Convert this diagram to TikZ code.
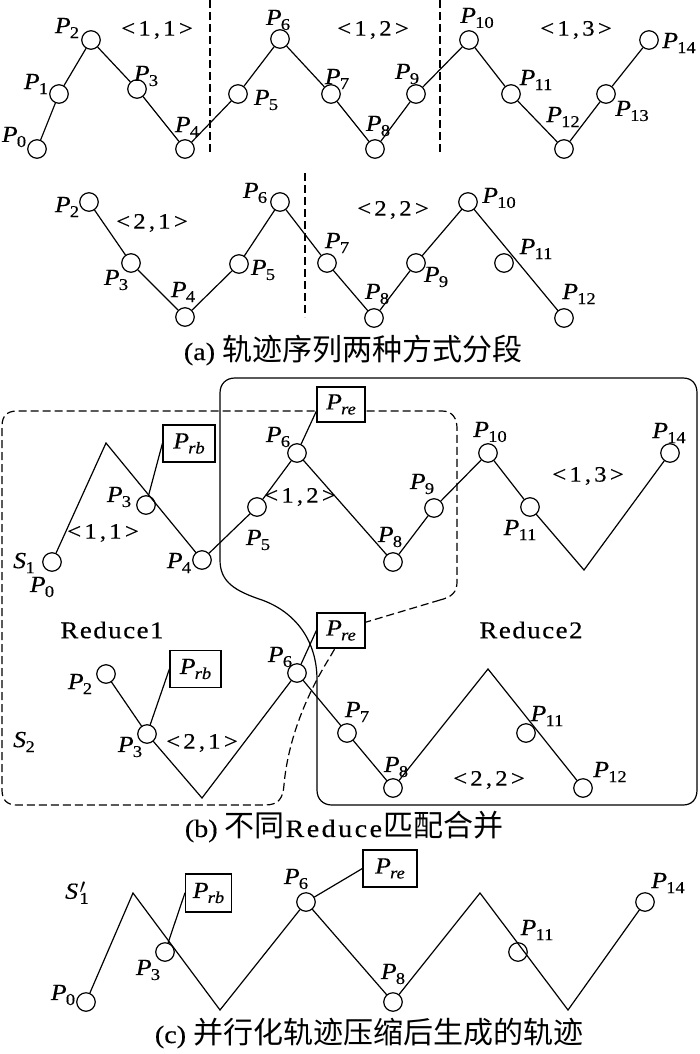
\documentclass[tikz,border=0pt]{standalone}
\usepackage{fontspec}
\newfontfamily\cjk{Noto Sans CJK SC}
\newfontfamily\tms[FakeStretch=1.12,FakeBold=0.4]{Liberation Serif}
\newcommand\Pl[1]{{\itshape P}\kern-0.8pt\raisebox{-5pt}{\fontsize{16.5}{16.5}\selectfont #1}}
\newcommand\Sl[1]{{\itshape S}\kern-0.5pt\raisebox{-5pt}{\fontsize{16.5}{16.5}\selectfont #1}}
\makeatletter
\newcommand\lsp[2]{\def\lsp@k{\kern#1}\@tfor\lsp@c:=#2\do{\lsp@c\lsp@k}\unkern}
\makeatother
\begin{document}
\begin{tikzpicture}[x=1pt,y=-1pt,
  pt/.style={circle,draw,line width=1.2pt,minimum size=18.5pt,inner sep=0pt},
  traj/.style={line width=1.2pt,line cap=round},
  lbl/.style={inner sep=0pt,font=\tms\fontsize{23}{23}\selectfont},
  seg/.style={inner sep=0pt,font=\tms\fontsize{22}{22}\selectfont},
  redn/.style={inner sep=0pt,font=\tms\fontsize{24}{24}\selectfont},
  rbox/.style={draw,line width=1.2pt,fill=white,minimum width=50pt,minimum height=36pt,inner sep=0pt,font=\tms\fontsize{23}{23}\selectfont},
  dsh/.style={line width=1.2pt,dash pattern=on 8pt off 4pt},
  capn/.style={inner sep=0pt,font=\tms\fontsize{25}{25}\selectfont}]
\useasboundingbox (0,0) rectangle (700,1054);

% ---------------- (a) row 1 ----------------
\foreach \n/\x/\y in {0/37/149,1/59/94,2/91/40,3/137/89,4/185/149,5/238/94,6/280/39,7/331/94,8/375/149,9/416/94,10/469/40,11/511/94,12/564/149,13/606/94,14/649/40}
  \node[pt] (a\n) at (\x,\y) {};
\draw[traj] (a0)--(a1)--(a2)--(a3)--(a4)--(a5)--(a6)--(a7)--(a8)--(a9)--(a10)--(a11)--(a12)--(a13)--(a14);
\foreach \n/\x/\y in {0/14/137,1/36/84,2/67/28,3/146/76,4/187/127,5/266/100,6/278/20,7/337/79,8/378/126,9/407/74,10/477/18,11/536/80,12/563/117,13/632/111,14/679/43}
  \node[lbl] (la\n) at (\x,\y) {\Pl{\n}};
\node[seg] (s11) at (157,30) {\lsp{3.2pt}{<1,1>}};
\node[seg] (s12) at (373,30) {\lsp{3.2pt}{<1,2>}};
\node[seg] (s13) at (576,30) {\lsp{3.2pt}{<1,3>}};
\coordinate (d1t) at (210,0); \coordinate (d1b) at (210,155);
\coordinate (d2t) at (440,0); \coordinate (d2b) at (440,155);
\draw[dsh] (d1t) -- (d1b);
\draw[dsh] (d2t) -- (d2b);

% ---------------- (a) row 2 ----------------
\foreach \n/\x/\y in {2/89/202,3/131/263,4/185/317,5/239/264,6/280/202,7/327/263,8/374/318,9/416/263,10/468/202,11/504/263,12/564/318}
  \node[pt] (b\n) at (\x,\y) {};
\draw[traj] (b2)--(b3)--(b4)--(b5)--(b6)--(b7)--(b8)--(b9)--(b10)--(b12);
\foreach \n/\x/\y in {2/67/207,3/116/280,4/183/292,5/263/270,6/255/193,7/337/243,8/377/294,9/436/277,10/499/198,11/536/249,12/579/294}
  \node[lbl] (lb\n) at (\x,\y) {\Pl{\n}};
\node[seg] (s21) at (152,223) {\lsp{3.2pt}{<2,1>}};
\node[seg] (s22) at (393,210) {\lsp{3.2pt}{<2,2>}};
\coordinate (d3t) at (305,173); \coordinate (d3b) at (305,317);
\draw[dsh] (d3t) -- (d3b);

\node[capn] (capa) at (353,350) {(a) {\cjk\fontsize{30}{30}\selectfont 轨迹序列两种方式分段}};

% ---------------- (b) frames ----------------
\draw[line width=1.2pt] (220,560) -- (220,393) .. controls (220,384) and (226,378) .. (235,378) -- (683,378)
  .. controls (692,378) and (697,384) .. (697,393) -- (697,790) .. controls (697,799) and (692,805) .. (683,805)
  -- (332,805) .. controls (323,805) and (317,799) .. (317,790) -- (317,680)
  .. controls (317,640) and (295,612) .. (262,600) .. controls (235,591) and (220,582) .. (220,560);
\draw[dsh] (440,600) -- (363,623) .. controls (345,629) and (337,645) .. (330,657)
  .. controls (300,705) and (287,750) .. (284,785) .. controls (283,799) and (278,805) .. (265,805)
  -- (17,805) .. controls (7,805) and (2,800) .. (2,790) -- (2,426) .. controls (2,416) and (7,411) .. (17,411)
  -- (442,411) .. controls (452,411) and (457,418) .. (457,428) -- (457,582) .. controls (457,592) and (452,597) .. (440,600);

% ---------------- (b) upper trajectory ----------------
\foreach \n/\x/\y in {0/52/562,3/146/505,4/202/560,5/257/507,6/297/453,8/393/562,9/434/508,10/488/453,11/530/507,14/670/453}
  \node[pt] (c\n) at (\x,\y) {};
\coordinate (cpk) at (106,443);
\coordinate (cv) at (584,570);
\draw[traj] (c0)--(cpk)--(c4)--(c5)--(c6)--(c8)--(c9)--(c10)--(c11)--(cv)--(c14);
\node[rbox,minimum width=52pt,minimum height=37pt] (prb1) at (189,443.5) {\Pl{\itshape rb}};
\node[rbox,minimum width=48pt,minimum height=35pt] (pre1) at (341,404.5) {\Pl{\itshape re}};
\draw[traj] (prb1.west) -- (c3);
\draw[traj] (pre1.195) -- (c6);
\node[lbl] (ls1) at (24,563) {\Sl{1}};
\foreach \n/\x/\y in {0/42/587,3/119/497,4/179/563,5/258/540,6/278/437,8/390/537,9/422/484,10/490/432,11/520/530,14/669/433}
  \node[lbl] (lc\n) at (\x,\y) {\Pl{\n}};
\node[seg] (t11) at (103,533) {\lsp{3.2pt}{<1,1>}};
\node[seg] (t12) at (300,497) {\lsp{3.2pt}{<1,2>}};
\node[seg] (t13) at (588,476) {\lsp{3.2pt}{<1,3>}};
\node[redn] (r1) at (112,630) {\lsp{1.5pt}{Reduce1}};
\node[redn] (r2) at (531,630) {\lsp{1.5pt}{Reduce2}};

% ---------------- (b) lower trajectory ----------------
\foreach \n/\x/\y in {2/106/674,3/147/734,6/297/673,7/347/733,8/393/788,11/526/733,12/583/788}
  \node[pt] (d\n) at (\x,\y) {};
\coordinate (dv) at (202,798);
\coordinate (dpk) at (488,669);
\draw[traj] (d2)--(d3)--(dv)--(d6)--(d7)--(d8)--(dpk)--(d12);
\node[rbox,minimum width=51pt,minimum height=37pt] (prb2) at (195.5,669) {\Pl{\itshape rb}};
\node[rbox,minimum width=48pt,minimum height=35pt] (pre2) at (341,630.5) {\Pl{\itshape re}};
\draw[traj] (prb2.west) -- (d3);
\draw[traj] (pre2.west) -- (d6);
\node[lbl] (ls2) at (24,742) {\Sl{2}};
\foreach \n/\x/\y in {2/80/684,3/130/747,6/280/657,7/357/712,8/396/767,11/547/716,12/610/772}
  \node[lbl] (ld\n) at (\x,\y) {\Pl{\n}};
\node[seg] (t21) at (202,743) {\lsp{3.2pt}{<2,1>}};
\node[seg] (t22) at (489,780) {\lsp{3.2pt}{<2,2>}};

\node[capn] (capb) at (344,827) {(b) {\cjk\fontsize{30}{30}\selectfont 不同}\kern1pt\lsp{2.5pt}{Reduce}\kern1pt{\cjk\fontsize{30}{30}\selectfont 匹配合并}};

% ---------------- (c) ----------------
\foreach \n/\x/\y in {0/86/1002,3/165/952,6/306/902,8/393/1002,11/518/952,14/645/902}
  \node[pt] (e\n) at (\x,\y) {};
\coordinate (epk1) at (133,893);
\coordinate (ev1) at (220,1010);
\coordinate (epk2) at (480,893);
\coordinate (ev2) at (568,1010);
\draw[traj] (e0)--(epk1)--(ev1)--(e6)--(e8)--(epk2)--(ev2)--(e14);
\node[rbox,minimum width=46pt,minimum height=38pt] (prb3) at (208.5,893) {\Pl{\itshape rb}};
\node[rbox,minimum width=54pt,minimum height=37pt] (pre3) at (390,868.5) {\Pl{\itshape re}};
\draw[traj] (prb3.west) -- (e3);
\draw[traj] (pre3.west) -- (e6);
\node[lbl] (ls3) at (77,893) {{\itshape S}\kern1.5pt\rlap{\raisebox{5pt}{\fontsize{20}{20}\selectfont$\prime$}}\raisebox{-5pt}{\fontsize{16.5}{16.5}\selectfont 1}};
\foreach \n/\x/\y in {0/63/995,3/148/970,6/296/879,8/393/974,11/537/930,14/668/883}
  \node[lbl] (le\n) at (\x,\y) {\Pl{\n}};

\node[capn] (capc) at (369,1033) {(c) {\cjk\fontsize{30}{30}\selectfont 并行化轨迹压缩后生成的轨迹}};
\end{tikzpicture}
\end{document}
